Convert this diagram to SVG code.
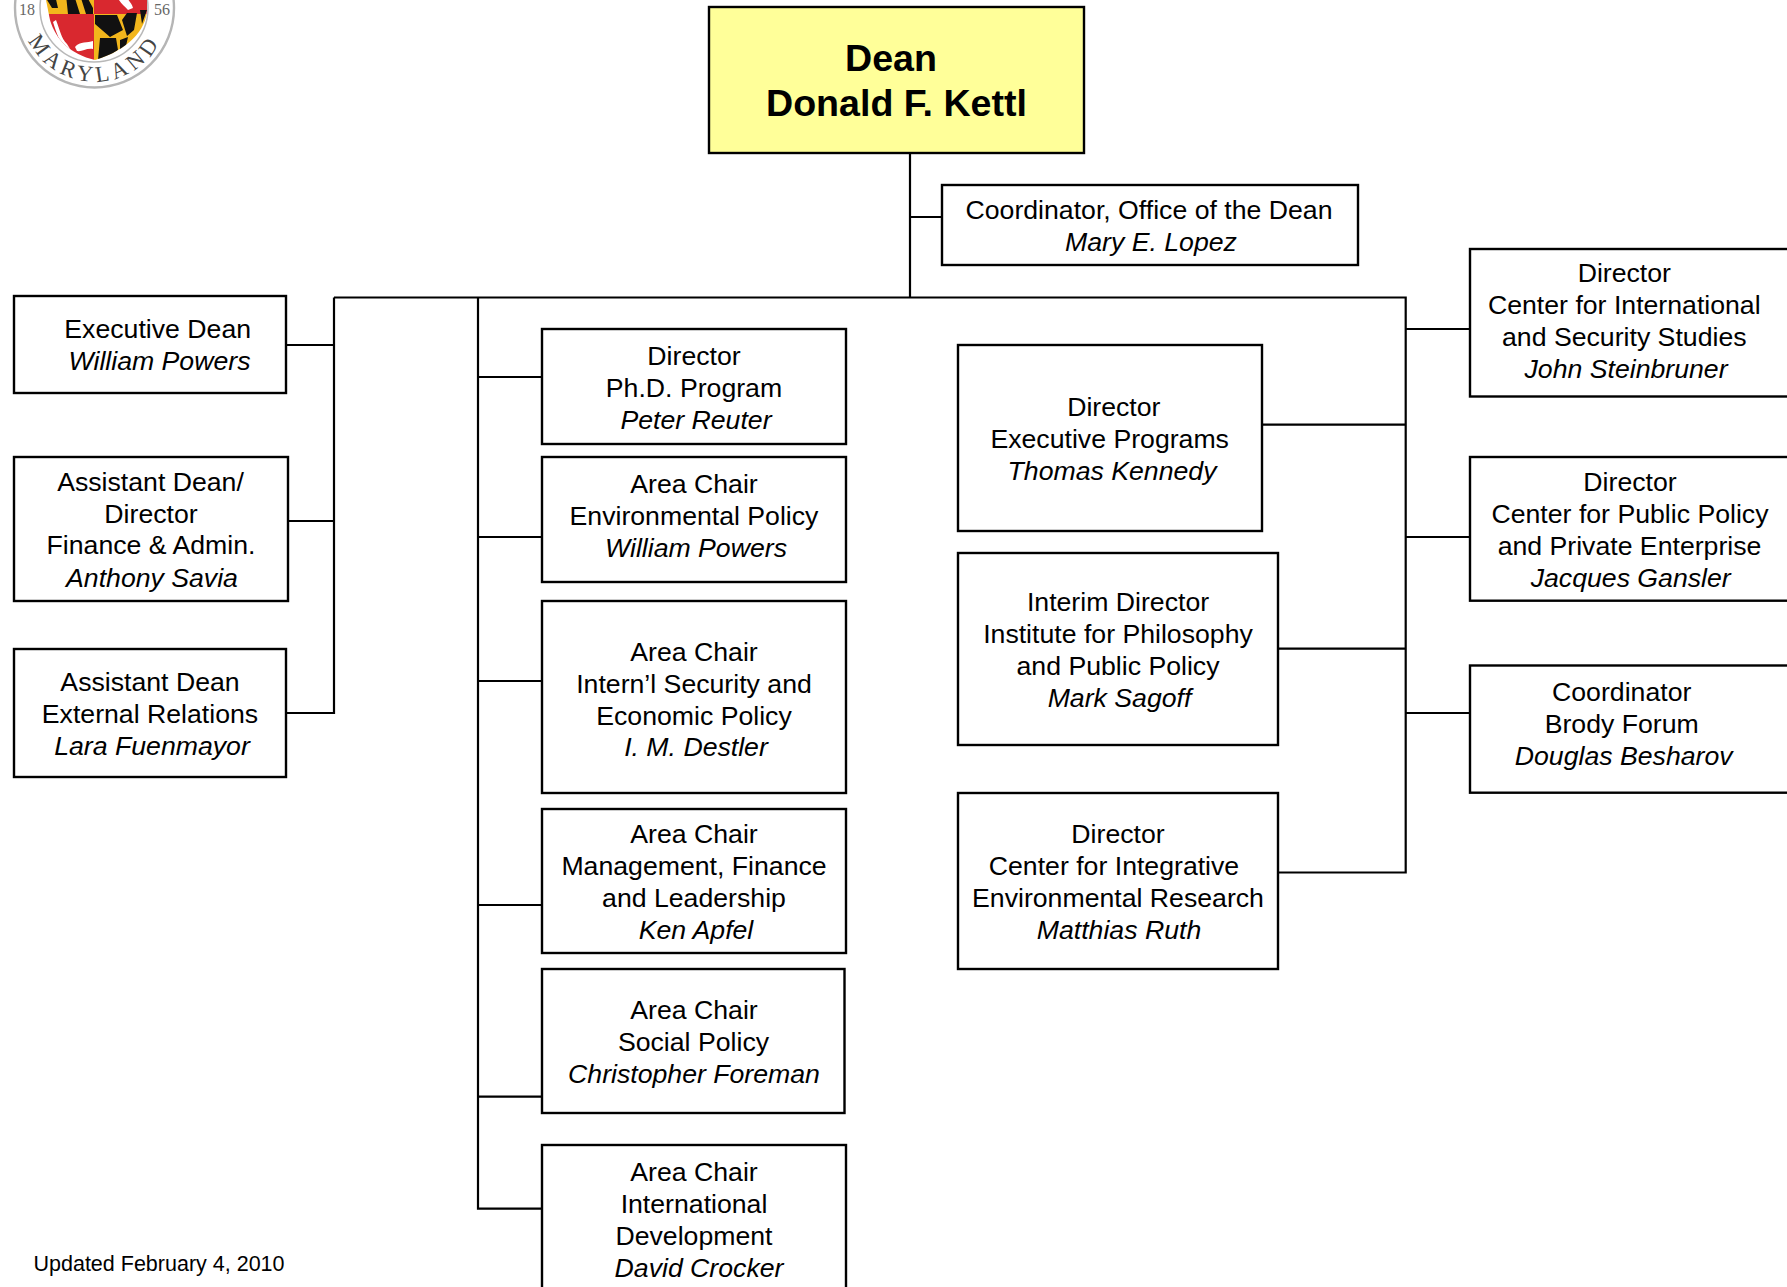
<svg xmlns="http://www.w3.org/2000/svg" width="1787" height="1287" viewBox="0 0 1787 1287">
<style>
.b{fill:#fff;stroke:#000;stroke-width:2.4}
.c{fill:none;stroke:#000;stroke-width:2.2}
text{font-family:"Liberation Sans",Arial,sans-serif;font-size:26.67px;fill:#000;text-anchor:middle}
.i{font-style:italic}
.d{font-weight:bold;font-size:37.6px}
.f{font-size:21.5px;text-anchor:start}
.s{font-family:"Liberation Serif","Times New Roman",serif;font-size:16px;fill:#666}
.m{font-family:"Liberation Serif","Times New Roman",serif;font-size:22.5px;fill:#444;letter-spacing:4.4px}
</style>
<defs>
<clipPath id="shield"><path d="M45 -5H147V10C146 30 128 50 95 60C70 54 56 40 50 20Z"/></clipPath>
<path id="arc" d="M20.8 8A73.7 73.7 0 0 0 168.2 8" fill="none"/>
</defs>
<g id="seal">
<circle cx="94.5" cy="8" r="79.5" fill="#fff" stroke="#b5b5b5" stroke-width="2.4"/>
<circle cx="94" cy="8" r="54" fill="#fff" stroke="#b8b8b8" stroke-width="1.5"/>
<g clip-path="url(#shield)">
<rect x="45" y="-5" width="49" height="19" fill="#f2b61c"/>
<path d="M44 -5H55L58 8L52 8ZM66 -5H74L80 14H68ZM80 -5H86L93 8V14H86Z" fill="#111"/>
<rect x="94" y="-5" width="54" height="19" fill="#d9282f"/>
<rect x="45" y="14" width="49" height="50" fill="#d9282f"/>
<rect x="94" y="14" width="54" height="50" fill="#f2b61c"/>
<path d="M95 15H117L123 30L110 37L95 24ZM127 13H137L134 30L127 36L122 20ZM100 38H116L118 50L104 60H98ZM120 40L128 37L126 46L120 51ZM140 10H147L142 24Z" fill="#111"/>
<path d="M56 20C60 30 61 38 67 44L72 52L69 53C60 44 56 32 53 22Z" fill="#fff"/>
<path d="M75 47C80 41 88 43 93 41V49C86 48 82 52 77 51Z" fill="#fff"/>
<path d="M117 -5H126C128 1 132 3 133 8L128 10C124 5 119 3 117 -5Z" fill="#fff"/>
</g>
<text class="s" x="27" y="15">18</text>
<text class="s" x="162" y="15">56</text>
<text class="m"><textPath href="#arc" startOffset="50%">MARYLAND</textPath></text>
</g>
<g id="connectors">
<path class="c" d="M910 153V297.5M910 217H942M334 297.5H1405.7V872.5H1278"/>
<path class="c" d="M286 345H334M285 521H334M286 713H334V297.5"/>
<path class="c" d="M478 297.5V1208.7H542M478 377H542M478 537H542M478 681H542M478 905H542M478 1096.7H542"/>
<path class="c" d="M1262 424.7H1405.7M1278 648.6H1405.7M1405.7 329H1470M1405.7 537H1470M1405.7 713H1470"/>
</g>
<g id="dean"><rect x="709" y="7" width="375" height="146" fill="#ffff99" stroke="#000" stroke-width="2.4"/><text class="d" x="891" y="71">Dean</text><text class="d" x="896.5" y="116">Donald F. Kettl</text></g>
<g id="coordinator-office"><rect class="b" x="942" y="185" width="416" height="80"/><text x="1149" y="219">Coordinator, Office of the Dean</text><text class="i" x="1151" y="250.7">Mary E. Lopez</text></g>
<g id="executive-dean"><rect class="b" x="14" y="296" width="272" height="97"/><text x="157.7" y="338">Executive Dean</text><text class="i" x="159.5" y="370">William Powers</text></g>
<g id="assistant-dean-finance"><rect class="b" x="14" y="457" width="274" height="144"/><text x="150.5" y="490.7">Assistant Dean/</text><text x="151" y="522.7">Director</text><text x="151" y="554.2">Finance &amp; Admin.</text><text class="i" x="152" y="586.7">Anthony Savia</text></g>
<g id="assistant-dean-external"><rect class="b" x="14" y="649" width="272" height="128"/><text x="150" y="690.7">Assistant Dean</text><text x="150" y="722.7">External Relations</text><text class="i" x="152" y="754.7">Lara Fuenmayor</text></g>
<g id="phd"><rect class="b" x="542" y="329" width="304" height="115"/><text x="694" y="365">Director</text><text x="694" y="397">Ph.D. Program</text><text class="i" x="696" y="428.5">Peter Reuter</text></g>
<g id="env"><rect class="b" x="542" y="457" width="304" height="125"/><text x="694" y="492.7">Area Chair</text><text x="694" y="524.7">Environmental Policy</text><text class="i" x="696" y="556.7">William Powers</text></g>
<g id="security"><rect class="b" x="542" y="601" width="304" height="192"/><text x="694" y="660.7">Area Chair</text><text x="694" y="692.7">Intern’l Security and</text><text x="694" y="724.7">Economic Policy</text><text class="i" x="696" y="756">I. M. Destler</text></g>
<g id="management"><rect class="b" x="542" y="809" width="304" height="144"/><text x="694" y="842.7">Area Chair</text><text x="694" y="874.7">Management, Finance</text><text x="694" y="906.7">and Leadership</text><text class="i" x="696" y="938.7">Ken Apfel</text></g>
<g id="social"><rect class="b" x="542" y="969" width="302.5" height="144"/><text x="694" y="1018.7">Area Chair</text><text x="693.5" y="1050.7">Social Policy</text><text class="i" x="694" y="1082.7">Christopher Foreman</text></g>
<g id="development"><rect class="b" x="542" y="1145" width="304" height="160"/><text x="694" y="1180.7">Area Chair</text><text x="694" y="1212.7">International</text><text x="694" y="1244.7">Development</text><text class="i" x="699" y="1276.7">David Crocker</text></g>
<g id="executive-programs"><rect class="b" x="958" y="345" width="304" height="186"/><text x="1113.8" y="416.3">Director</text><text x="1109.7" y="448.3">Executive Programs</text><text class="i" x="1112" y="480.3">Thomas Kennedy</text></g>
<g id="philosophy"><rect class="b" x="958" y="553" width="320" height="192"/><text x="1118" y="610.7">Interim Director</text><text x="1118" y="642.7">Institute for Philosophy</text><text x="1118" y="675">and Public Policy</text><text class="i" x="1119.5" y="706.7">Mark Sagoff</text></g>
<g id="environmental-research"><rect class="b" x="958" y="793" width="320" height="176"/><text x="1118" y="843">Director</text><text x="1114" y="875">Center for Integrative</text><text x="1118" y="907">Environmental Research</text><text class="i" x="1119" y="939">Matthias Ruth</text></g>
<g id="international-security"><rect class="b" x="1470" y="249" width="330" height="147.5"/><text x="1624.3" y="281.8">Director</text><text x="1624.3" y="314">Center for International</text><text x="1624.3" y="346">and Security Studies</text><text class="i" x="1626" y="378">John Steinbruner</text></g>
<g id="public-policy"><rect class="b" x="1470" y="457" width="330" height="143.7"/><text x="1630" y="491">Director</text><text x="1630" y="523">Center for Public Policy</text><text x="1629.5" y="555">and Private Enterprise</text><text class="i" x="1630.7" y="586.6">Jacques Gansler</text></g>
<g id="brody"><rect class="b" x="1470" y="665.5" width="330" height="127.2"/><text x="1621.7" y="700.6">Coordinator</text><text x="1621.7" y="732.5">Brody Forum</text><text class="i" x="1623.7" y="764.7">Douglas Besharov</text></g>
<text class="f" x="33.5" y="1270.7">Updated February 4, 2010</text>
</svg>
